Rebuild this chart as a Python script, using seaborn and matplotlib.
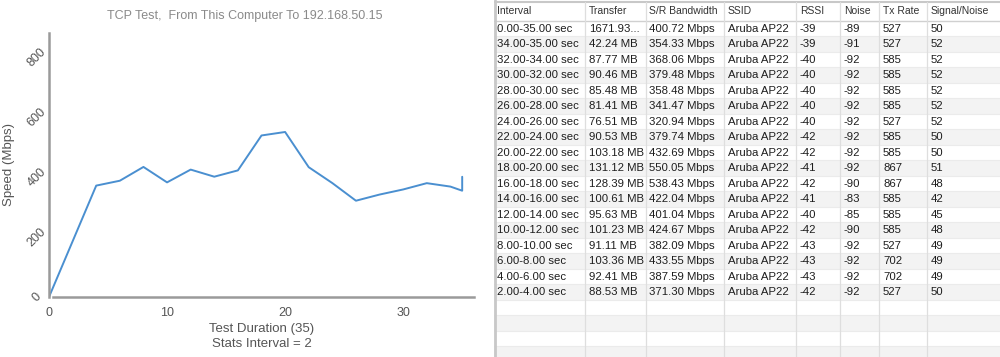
import numpy as np
import matplotlib
matplotlib.use('Agg')
import matplotlib.pyplot as plt
import seaborn as sns

# chart data: time (s, end of interval) vs bandwidth (Mbps)
duration = [0, 4, 6, 8, 10, 12, 14, 16, 18, 20, 22, 24, 26, 28, 30, 32, 34, 35, 35]
speed = [0, 371.30, 387.59, 433.55, 382.09, 424.67, 401.04, 422.04, 538.43,
         550.05, 432.69, 379.74, 320.94, 341.47, 358.48, 379.48, 368.06, 354.33, 400.72]

# table data
headers = ['Interval', 'Transfer', 'S/R Bandwidth', 'SSID', 'RSSI', 'Noise', 'Tx Rate', 'Signal/Noise']
intervals = ['0.00-35.00 sec', '34.00-35.00 sec', '32.00-34.00 sec', '30.00-32.00 sec',
             '28.00-30.00 sec', '26.00-28.00 sec', '24.00-26.00 sec', '22.00-24.00 sec',
             '20.00-22.00 sec', '18.00-20.00 sec', '16.00-18.00 sec', '14.00-16.00 sec',
             '12.00-14.00 sec', '10.00-12.00 sec', '8.00-10.00 sec', '6.00-8.00 sec',
             '4.00-6.00 sec', '2.00-4.00 sec']
transfer = ['1671.93...', '42.24 MB', '87.77 MB', '90.46 MB', '85.48 MB', '81.41 MB',
            '76.51 MB', '90.53 MB', '103.18 MB', '131.12 MB', '128.39 MB', '100.61 MB',
            '95.63 MB', '101.23 MB', '91.11 MB', '103.36 MB', '92.41 MB', '88.53 MB']
bandwidth = ['400.72 Mbps', '354.33 Mbps', '368.06 Mbps', '379.48 Mbps', '358.48 Mbps',
             '341.47 Mbps', '320.94 Mbps', '379.74 Mbps', '432.69 Mbps', '550.05 Mbps',
             '538.43 Mbps', '422.04 Mbps', '401.04 Mbps', '424.67 Mbps', '382.09 Mbps',
             '433.55 Mbps', '387.59 Mbps', '371.30 Mbps']
ssid = ['Aruba AP22'] * 18
rssi = ['-39', '-39', '-40', '-40', '-40', '-40', '-40', '-42', '-42', '-41', '-42', '-41',
        '-40', '-42', '-43', '-43', '-43', '-42']
noise = ['-89', '-91', '-92', '-92', '-92', '-92', '-92', '-92', '-92', '-92', '-90', '-83',
         '-85', '-90', '-92', '-92', '-92', '-92']
tx_rate = ['527', '527', '585', '585', '585', '585', '527', '585', '585', '867', '867', '585',
           '585', '585', '527', '702', '702', '527']
snr = ['50', '52', '52', '52', '52', '52', '52', '50', '50', '51', '48', '42', '45', '48',
       '49', '49', '49', '50']

sns.set_style('white')
plt.rcParams['font.family'] = ['Liberation Sans', 'DejaVu Sans']

W, H = 1000, 357
fig = plt.figure(figsize=(10, 3.57), dpi=100)

# ---- chart ----
ax = fig.add_axes([49 / W, (H - 297) / H, (474 - 49) / W, (297 - 33) / H])
sns.lineplot(x=duration, y=speed, sort=False, estimator=None, ax=ax,
             color='#4a8fd0', linewidth=1.4)
ax.set_xlim(0, 36)
ax.set_ylim(0, 880)
ax.set_xticks([0, 10, 20, 30])
ax.set_yticks([0, 200, 400, 600, 800])
ax.tick_params(axis='both', length=0, labelsize=9, labelcolor='#555555')
ax.tick_params(axis='x', pad=7)
ax.tick_params(axis='y', pad=9)
for lab in ax.get_yticklabels():
    lab.set_rotation(45)
    lab.set_va('center')
    lab.set_ha('center')
for s in ['top', 'right']:
    ax.spines[s].set_visible(False)
for s in ['left', 'bottom']:
    ax.spines[s].set_color('#9a9a9a')
    ax.spines[s].set_linewidth(1.8)
ax.spines['bottom'].set_bounds(0.35, 36)
ax.set_xlabel('Test Duration (35)\nStats Interval = 2', fontsize=9.5, color='#555555',
              linespacing=1.3, labelpad=3)
ax.set_ylabel('Speed (Mbps)', fontsize=9.5, color='#555555')
ax.yaxis.set_label_coords((15 - 49) / 425, 0.5)
fig.text(245 / W, 1 - 16 / H, 'TCP Test,  From This Computer To 192.168.50.15',
         ha='center', va='center', fontsize=9, color='#8a8a8a')

# ---- table ----
tx = fig.add_axes([494 / W, 0, (W - 494) / W, 1])
tx.set_xlim(494, W)
tx.set_ylim(H, 0)
tx.axis('off')

col_lines = [585, 646, 724, 796, 840, 879, 927]
col_text = [497, 589, 649, 728, 800, 844, 883, 931]
head_bottom = 20.5
row_h = 15.5
n_rows = 22

for i in range(n_rows):
    top = head_bottom + i * row_h
    if i % 2 == 1:
        tx.fill_between([494, W], top, top + row_h, color='#f3f3f3', linewidth=0)
    tx.plot([494, W], [top + row_h, top + row_h], color='#ebebeb', linewidth=0.8)

tx.plot([494, W], [1.5, 1.5], color='#c8c8c8', linewidth=1.5)
tx.plot([494, W], [head_bottom, head_bottom], color='#d0d0d0', linewidth=1)
for xc in col_lines:
    tx.plot([xc, xc], [2, H], color='#dedede', linewidth=0.9)
tx.plot([495, 495], [0, H], color='#c8c8c8', linewidth=2)

for xc, h in zip(col_text, headers):
    tx.text(xc, 11.5, h, ha='left', va='center', fontsize=7.5, color='#333333')

columns = [intervals, transfer, bandwidth, ssid, rssi, noise, tx_rate, snr]
for xc, col in zip(col_text, columns):
    for i, val in enumerate(col):
        yc = head_bottom + i * row_h + row_h / 2 + 0.5
        tx.text(xc, yc, val, ha='left', va='center', fontsize=8.2, color='#1e1e1e')

fig.savefig('out.png', dpi=100)
